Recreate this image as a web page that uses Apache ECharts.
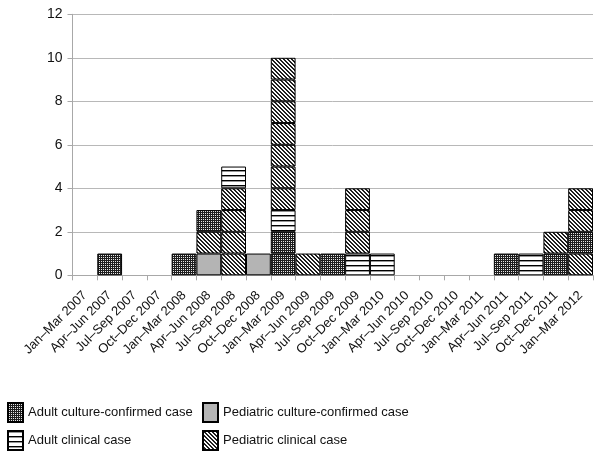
<!DOCTYPE html>
<html>
<head>
<meta charset="utf-8">
<script src="https://cdn.jsdelivr.net/npm/echarts@6/dist/echarts.min.js"></script>
<style>
html,body{margin:0;padding:0;background:#fff;}
#chart{width:602px;height:460px;}
</style>
</head>
<body>
<div id="chart"></div>
<script>
// Quarters (categories)
const quarters = [
  'Jan\u2013Mar 2007','Apr\u2013Jun 2007','Jul\u2013Sep 2007','Oct\u2013Dec 2007',
  'Jan\u2013Mar 2008','Apr\u2013Jun 2008','Jul\u2013Sep 2008','Oct\u2013Dec 2008',
  'Jan\u2013Mar 2009','Apr\u2013Jun 2009','Jul\u2013Sep 2009','Oct\u2013Dec 2009',
  'Jan\u2013Mar 2010','Apr\u2013Jun 2010','Jul\u2013Sep 2010','Oct\u2013Dec 2010',
  'Jan\u2013Mar 2011','Apr\u2013Jun 2011','Jul\u2013Sep 2011','Oct\u2013Dec 2011',
  'Jan\u2013Mar 2012'
];
// Case types
const caseTypes = ['A','P','C','D'];
const caseTypeNames = {
  A: 'Adult culture-confirmed case',
  P: 'Pediatric culture-confirmed case',
  C: 'Adult clinical case',
  D: 'Pediatric clinical case'
};
// Individual cases per quarter, stacked bottom -> top (one box per case)
const caseStacks = [
  '', 'A', '', '',
  'A', 'PDA', 'DDDDC', 'P',
  'AACDDDDDDD', 'D', 'A', 'CDDD',
  'C', '', '', '',
  '', 'A', 'C', 'AD',
  'DADD'
];
const yTicks = [0, 2, 4, 6, 8, 10, 12];

function makePattern(type) {
  if (type === 'P') return '#b4b4b4';
  const c = document.createElement('canvas');
  let w, h;
  if (type === 'A') { w = 2; h = 2; }
  else if (type === 'C') { w = 1; h = 5; }
  else { w = 4; h = 4; }
  c.width = w; c.height = h;
  const ctx = c.getContext('2d');
  const img = ctx.createImageData(w, h);
  for (let y = 0; y < h; y++) {
    for (let x = 0; x < w; x++) {
      let v = 255;
      if (type === 'A') v = (x === 1 && y === 1) ? 230 : 30;
      else if (type === 'C') v = (y === 0) ? 0 : (y === 1 ? 150 : 255);
      else { const m = ((x - y) % 4 + 4) % 4; v = (m === 0 || m === 1) ? 30 : 250; }
      const k = (y * w + x) * 4;
      img.data[k] = v; img.data[k+1] = v; img.data[k+2] = v; img.data[k+3] = 255;
    }
  }
  ctx.putImageData(img, 0, 0);
  return { image: c, repeat: 'repeat' };
}
const fills = {};
caseTypes.forEach(t => fills[t] = makePattern(t));

const maxLevel = Math.max.apply(null, caseStacks.map(s => s.length));
const series = [];
// legend series (no data of their own, share the stack)
caseTypes.forEach(t => {
  series.push({
    name: caseTypeNames[t], type: 'bar', stack: 'cases',
    data: quarters.map(() => '-'),
    itemStyle: { color: fills[t], borderColor: '#000', borderWidth: 1.5 }
  });
});
for (let L = 0; L < maxLevel; L++) {
  series.push({
    name: 'level' + L, type: 'bar', stack: 'cases',
    barCategoryGap: '0%',
    silent: true,
    data: caseStacks.map(s => L < s.length ? {
      value: 1,
      itemStyle: { color: fills[s[L]], borderColor: '#000', borderWidth: 1 }
    } : '-')
  });
}

const font = 'Liberation Sans, Arial, sans-serif';
const legendPos = { A: [7, 402], C: [7, 430], P: [202, 402], D: [202, 430] };
const legends = caseTypes.map(t => ({
  data: [caseTypeNames[t]],
  left: legendPos[t][0], top: legendPos[t][1],
  padding: 0, itemWidth: 15, itemHeight: 19, itemGap: 0,
  icon: 'rect', selectedMode: false,
  textStyle: { fontFamily: font, fontSize: 13, color: '#111' }
}));

const chart = echarts.init(document.getElementById('chart'), null, { renderer: 'canvas' });
chart.setOption({
  animation: false,
  backgroundColor: '#fff',
  grid: { left: 72.5, right: 9, top: 14.3, height: 261, containLabel: false },
  xAxis: {
    type: 'category', data: quarters,
    axisLine: { show: true, lineStyle: { color: '#a8a8a8', width: 1 } },
    axisTick: { show: true, length: 5, inside: false, lineStyle: { color: '#a8a8a8' } },
    axisLabel: { rotate: 45, interval: 0, fontFamily: font, fontSize: 13, color: '#111', margin: 18 }
  },
  yAxis: {
    type: 'value', min: yTicks[0], max: yTicks[yTicks.length - 1], interval: 2,
    axisLine: { show: true, lineStyle: { color: '#a8a8a8', width: 1 } },
    axisTick: { show: true, length: 5, lineStyle: { color: '#a8a8a8' } },
    splitLine: { show: true, lineStyle: { color: '#b8b8b8', width: 1 } },
    axisLabel: { fontFamily: font, fontSize: 14, color: '#111', margin: 10 }
  },
  legend: legends,
  series: series
});
</script>
</body>
</html>
